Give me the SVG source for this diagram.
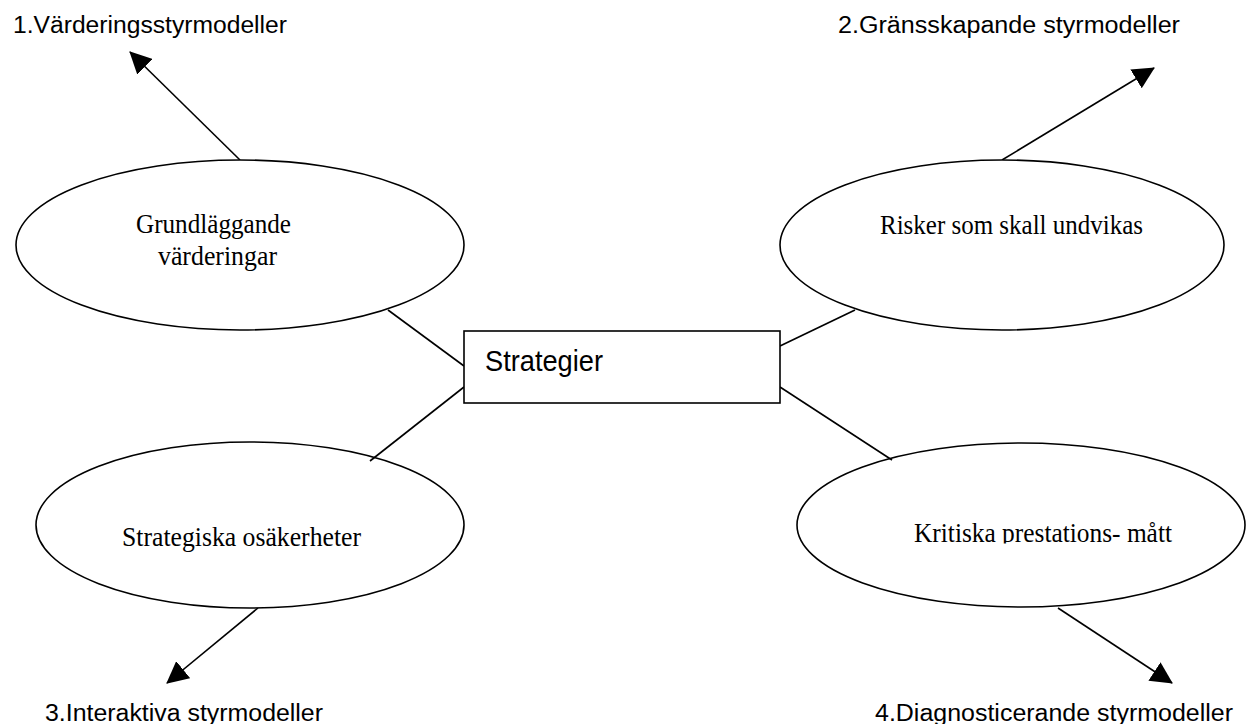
<svg xmlns="http://www.w3.org/2000/svg" width="1248" height="724" viewBox="0 0 1248 724">
<style>
.node ellipse, .node rect { fill: #fff; stroke: #000; stroke-width: 1.6; }
.conn line { stroke: #000; stroke-width: 1.6; fill: none; }
.serif { font-family: "Liberation Serif", "Times New Roman", serif; font-size: 27px; fill: #000; }
.sans { font-family: "Liberation Sans", Arial, sans-serif; font-size: 23px; fill: #000; }
.box { font-family: "Liberation Sans", Arial, sans-serif; font-size: 29px; fill: #000; }
</style>
<defs>
<marker id="arrow" markerUnits="userSpaceOnUse" viewBox="0 0 22 22" refX="21" refY="11" markerWidth="22" markerHeight="22" orient="auto">
<path d="M0,0 L22,11 L0,22 z" fill="#000"/>
</marker>
<clipPath id="clipK"><rect x="800" y="500" width="440" height="43.5"/></clipPath>
</defs>
<g id="connectors" class="conn">
<line x1="240" y1="160" x2="130" y2="52" marker-end="url(#arrow)"/>
<line x1="1002" y1="160" x2="1154" y2="68" marker-end="url(#arrow)"/>
<line x1="258" y1="608" x2="167" y2="683" marker-end="url(#arrow)"/>
<line x1="1058" y1="608" x2="1172" y2="683" marker-end="url(#arrow)"/>
</g>
<g id="node-e1" class="node">
<ellipse cx="240" cy="245" rx="224" ry="85"/>
<text class="serif" x="136" y="233" textLength="155" lengthAdjust="spacingAndGlyphs">Grundläggande</text>
<text class="serif" x="158" y="265" textLength="119" lengthAdjust="spacingAndGlyphs">värderingar</text>
</g>
<g id="node-e2" class="node">
<ellipse cx="1002" cy="245" rx="222" ry="85"/>
<text class="serif" x="880" y="234" textLength="263" lengthAdjust="spacingAndGlyphs">Risker som skall undvikas</text>
</g>
<g id="node-e3" class="node">
<ellipse cx="250" cy="525" rx="214" ry="83"/>
<text class="serif" x="122" y="546" textLength="239" lengthAdjust="spacingAndGlyphs">Strategiska osäkerheter</text>
</g>
<g id="node-e4" class="node">
<ellipse cx="1021" cy="525" rx="224" ry="82"/>
<text class="serif" x="914" y="542" textLength="258" lengthAdjust="spacingAndGlyphs" clip-path="url(#clipK)">Kritiska prestations- mått</text>
</g>
<g id="links" class="conn">
<line x1="388" y1="310" x2="464" y2="366"/>
<line x1="464" y1="387" x2="370" y2="461"/>
<line x1="780" y1="346" x2="855" y2="310"/>
<line x1="780" y1="387" x2="892" y2="460"/>
</g>
<g id="node-center" class="node">
<rect x="464" y="331" width="316" height="72"/>
<text class="box" x="485" y="371" textLength="118" lengthAdjust="spacingAndGlyphs">Strategier</text>
</g>
<g id="labels">
<text id="label-1" class="sans" x="13" y="32.5" textLength="274" lengthAdjust="spacingAndGlyphs">1.Värderingsstyrmodeller</text>
<text id="label-2" class="sans" x="838" y="33" textLength="342" lengthAdjust="spacingAndGlyphs">2.Gränsskapande styrmodeller</text>
<text id="label-3" class="sans" x="45" y="721" textLength="278" lengthAdjust="spacingAndGlyphs">3.Interaktiva styrmodeller</text>
<text id="label-4" class="sans" x="875" y="721" textLength="358" lengthAdjust="spacingAndGlyphs">4.Diagnosticerande styrmodeller</text>
</g>
</svg>
